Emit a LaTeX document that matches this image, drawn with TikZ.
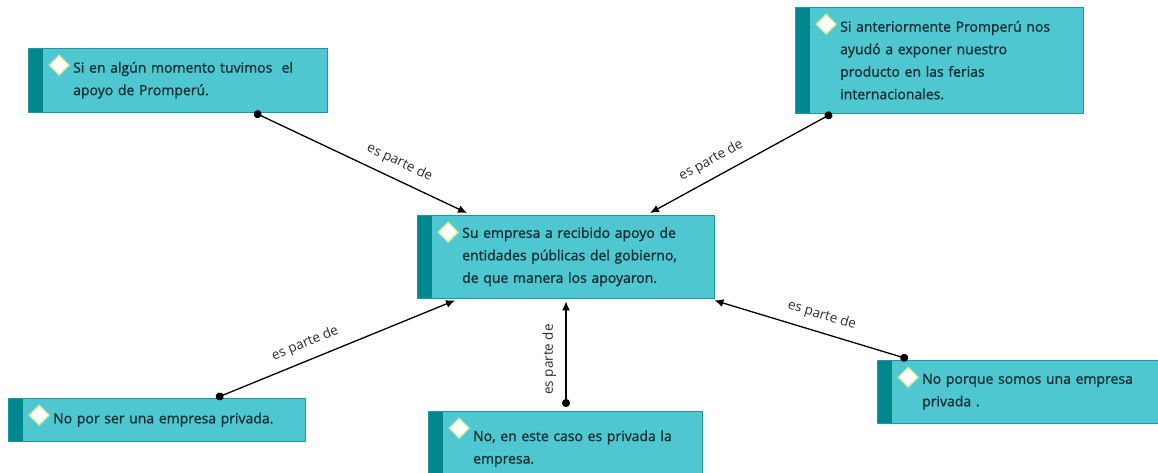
\documentclass[tikz,border=0pt]{standalone}
\usepackage{fontspec}
\setmainfont{Open Sans}[FakeBold=1.4]
\newfontfamily\lblfont{Open Sans}
\usetikzlibrary{arrows.meta}
\definecolor{cfill}{HTML}{4FC7D1}
\definecolor{cline}{HTML}{1F97A0}
\definecolor{cbar}{HTML}{00888E}
\definecolor{ctext}{HTML}{1A3236}
\definecolor{cdia}{HTML}{C8E6A0}
\definecolor{ltext}{HTML}{2B2B2B}
\def\esparte{node[lbl]{es parte de}}

\begin{document}
\begin{tikzpicture}[x=1pt,y=-1pt,
    concept/.style={draw=cline,fill=cfill,text=ctext,anchor=north west,align=left,
      inner xsep=8pt,inner ysep=0pt,font=\fontsize{14}{22.5}\selectfont,
      execute at begin node={\leftskip=37pt},
      path picture={
        \fill[cbar] (path picture bounding box.north west) rectangle ([xshift=15pt]path picture bounding box.south west);
        \filldraw[fill=white,draw=cdia,line width=1.3pt] ([xshift=21pt,yshift=-17pt]path picture bounding box.north west)
          -- ++(10pt,10pt) -- ++(10pt,-10pt) -- ++(-10pt,-10pt) -- cycle;}},
    partof/.style={line width=1.3pt,{Circle[length=8pt]}-{Latex[length=9pt,width=8pt]}},
    backof/.style={line width=1.3pt,{Latex[length=9pt,width=8pt]}-{Circle[length=8pt]}},
    lbl/.style={sloped,above=6pt,font=\lblfont\fontsize{13.5}{15}\selectfont,text=ltext}]
                \useasboundingbox (0,0) rectangle (1158,472);
                \node[concept,text width=283pt,minimum height=64pt] (tl) at (28,48)
                    {Si en algún momento tuvimos~ el\\ apoyo de Promperú.};
                \node[concept,text width=272pt,minimum height=106pt] (tr) at (795,7)
                    {Si anteriormente Promperú nos\\ ayudó a exponer nuestro\\ producto en las ferias\\ internacionales.};
                \node[concept,text width=281pt,minimum height=83pt] (ce) at (417,215)
                    {Su empresa a recibido apoyo de\\ entidades públicas del gobierno,\\ de que manera los apoyaron.};
                \node[concept,text width=281pt,minimum height=43pt] (bl) at (8,398)
                    {No por ser una empresa privada.};
                \node[concept,text width=258pt,minimum height=75pt] (bm) at (428,411)
                    {No, en este caso es privada la\\ empresa.};
                \node[concept,text width=274pt,minimum height=63pt] (br) at (877,360)
                    {No porque somos una empresa\\ privada .};
                \draw[partof] ([xshift=226pt]tl.south west) -- ([xshift=50pt,yshift=2pt]ce.north west)
                    [lbl/.append style={pos=0.65}] \esparte;
                \draw[backof] ([xshift=233pt,yshift=2pt]ce.north west) -- ([xshift=37pt]tr.south west)
                    [lbl/.append style={pos=0.38}] \esparte;
                \draw[partof] ([xshift=208pt]bl.north west) -- ([xshift=38pt,yshift=-2pt]ce.south west)
                    [lbl/.append style={pos=0.40}] \esparte;
                \draw[partof] ([xshift=138pt,yshift=4pt]bm.north west) -- ([xshift=149pt,yshift=-3pt]ce.south west)
                    [lbl/.append style={pos=0.45}] \esparte;
                \draw[backof] ([yshift=-2pt]ce.south east) -- ([xshift=31pt,yshift=1pt]br.north west)
                    [lbl/.append style={pos=0.53}] \esparte;
            \end{tikzpicture}
\end{document}
